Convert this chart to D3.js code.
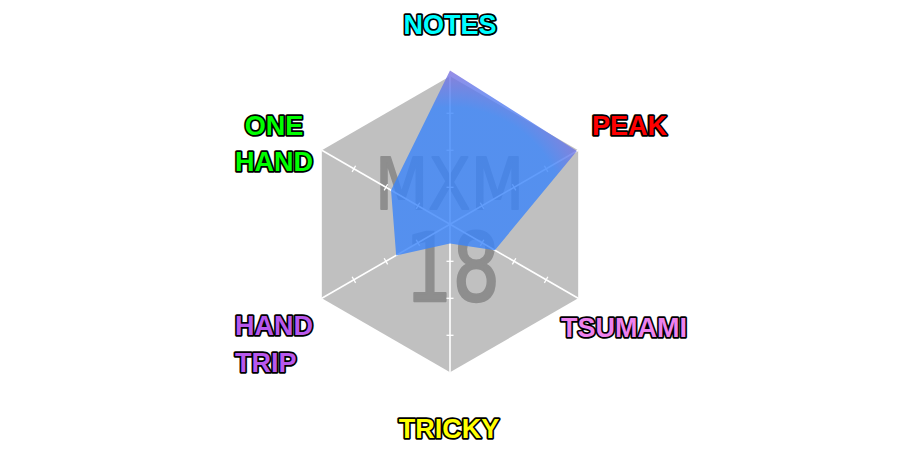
<!DOCTYPE html>
<html>
<head>
<meta charset="utf-8">
<script src="https://cdn.jsdelivr.net/npm/d3@7"></script>
<style>
  html, body { margin: 0; padding: 0; background: #ffffff; }
  svg { display: block; }
</style>
</head>
<body>
<svg id="chart" width="900" height="450"></svg>
<script>
// ---- data ----
const categories = ["NOTES", "PEAK", "TSUMAMI", "TRICKY", "HAND TRIP", "ONE HAND"];
const values = [104, 99, 35, 13, 42, 46];
const maxValue = 100;
const tickValues = [25, 50, 75];
const watermarkTitle = "MXM";
const watermarkLevel = "18";
const labelColors = ["#00ffff", "#ff0000", "#ee82ee", "#ffff00", "#b858ee", "#00ff00"];

// ---- layout ----
const W = 900, H = 450;
const cx = 450, cy = 224.3, R = 148;
const svg = d3.select("#chart");

const r = d3.scaleLinear().domain([0, maxValue]).range([0, R]);
const angle = d3.scaleLinear().domain([0, categories.length]).range([0, 2 * Math.PI]);
const pt = (i, v) => {
  const a = angle(i);
  return [cx + r(v) * Math.sin(a), cy - r(v) * Math.cos(a)];
};

const defs = svg.append("defs");
const grad = defs.append("radialGradient")
  .attr("id", "polyGrad")
  .attr("gradientUnits", "userSpaceOnUse")
  .attr("cx", cx).attr("cy", cy).attr("r", r(104));
grad.append("stop").attr("offset", "0").attr("stop-color", "rgb(58,132,250)");
grad.append("stop").attr("offset", "0.76").attr("stop-color", "rgb(58,132,250)");
grad.append("stop").attr("offset", "1").attr("stop-color", "rgb(128,112,222)");

// background hexagon
svg.append("path")
  .attr("d", d3.line()(categories.map((c, i) => pt(i, maxValue))) + "Z")
  .attr("fill", "#c0c0c0");

// watermark
const wm = svg.append("g")
  .attr("font-family", "DejaVu Sans")
  .attr("fill", "#8e8e8e")
  .attr("stroke", "#8e8e8e")
  .attr("stroke-linejoin", "round");
wm.append("text")
  .attr("x", 375).attr("y", 209.3)
  .attr("font-size", 71)
  .attr("stroke-width", 1.8)
  .attr("textLength", 149)
  .attr("lengthAdjust", "spacingAndGlyphs")
  .text(watermarkTitle);
wm.append("text")
  .attr("x", 405).attr("y", 300.7)
  .attr("font-size", 95)
  .attr("stroke-width", 2.4)
  .attr("textLength", 95)
  .attr("lengthAdjust", "spacingAndGlyphs")
  .text(watermarkLevel);

// axes with ticks
const axes = svg.append("g").attr("stroke", "#ffffff").attr("stroke-width", 1.6);
categories.forEach((c, i) => {
  const [x2, y2] = pt(i, maxValue);
  axes.append("line").attr("x1", cx).attr("y1", cy).attr("x2", x2).attr("y2", y2);
  const a = angle(i);
  const px = Math.cos(a), py = Math.sin(a);
  tickValues.forEach(t => {
    const [tx, ty] = pt(i, t);
    axes.append("line")
      .attr("x1", tx - px * 3.5).attr("y1", ty - py * 3.5)
      .attr("x2", tx + px * 3.5).attr("y2", ty + py * 3.5)
      .attr("stroke-width", 1.3);
  });
});

// data polygon
svg.append("path")
  .attr("d", d3.line()(values.map((v, i) => pt(i, v))) + "Z")
  .attr("fill", "url(#polyGrad)")
  .attr("fill-opacity", 0.8);

// labels
const labelLayout = [
  { lines: ["NOTES"], x: 450, y: [34], anchor: "middle" },
  { lines: ["PEAK"], x: 592, y: [135], anchor: "start" },
  { lines: ["TSUMAMI"], x: 561, y: [337], anchor: "start" },
  { lines: ["TRICKY"], x: 449, y: [438], anchor: "middle" },
  { lines: ["HAND", "TRIP"], x: 235, y: [335, 372], anchor: "start" },
  { lines: ["ONE", "HAND"], x: 274, y: [135, 171], anchor: "middle" }
];
categories.forEach((c, i) => {
  const L = labelLayout[i];
  L.lines.forEach((ln, k) => {
    svg.append("text")
      .attr("x", L.x).attr("y", L.y[k])
      .attr("text-anchor", L.anchor)
      .attr("font-family", "Liberation Sans")
      .attr("font-weight", "bold")
      .attr("font-size", 27)
      .attr("fill", labelColors[i])
      .attr("stroke", "#000000")
      .attr("stroke-width", 3.5)
      .attr("stroke-linejoin", "round")
      .attr("paint-order", "stroke")
      .text(ln);
  });
});
</script>
</body>
</html>
